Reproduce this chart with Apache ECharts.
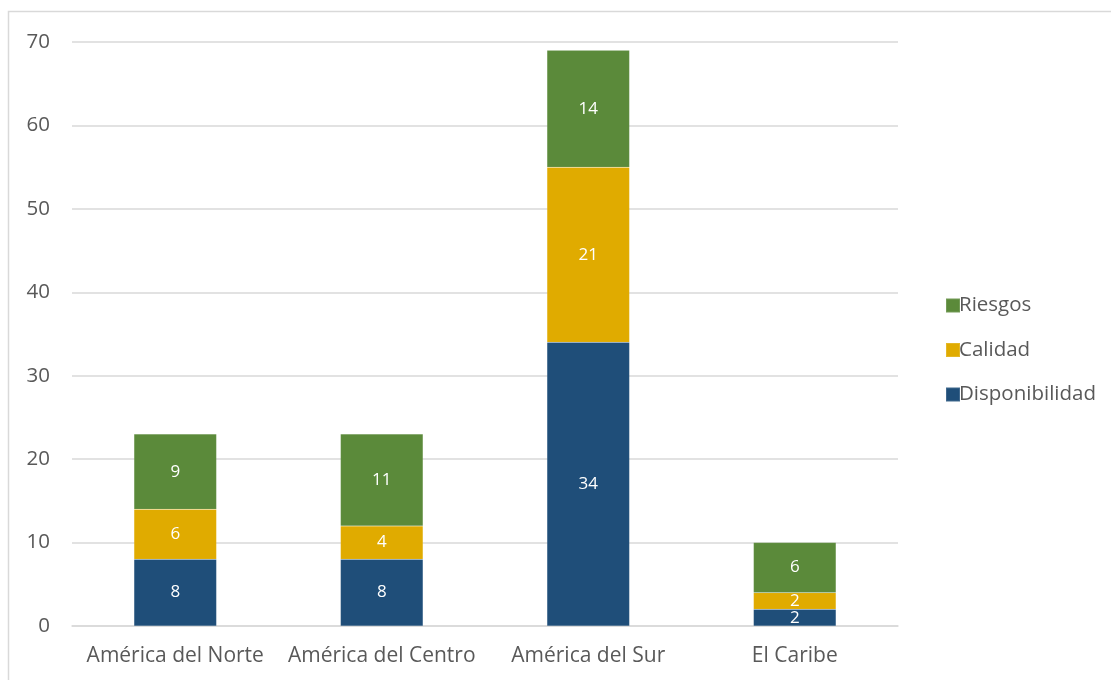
<!DOCTYPE html>
<html>
<head>
<meta charset="utf-8">
<script src="https://cdn.jsdelivr.net/npm/echarts@6/dist/echarts.min.js"></script>
<style>
  html, body { margin: 0; padding: 0; background: #fff; }
  #chart { width: 1111px; height: 680px; }
</style>
</head>
<body>
<div id="chart"></div>
<script>
// Regions and the count of items per topic
const regions = ['América del Norte', 'América del Centro', 'América del Sur', 'El Caribe'];
const disponibilidad = [8, 8, 34, 2];
const calidad = [6, 4, 21, 2];
const riesgos = [9, 11, 14, 6];
const yTicks = { min: 0, max: 70, interval: 10 };

const FONT = '"Open Sans", "Noto Sans", sans-serif';
const colors = { disp: '#1F4E79', cal: '#E0AB00', ries: '#5B8A3A' };

function stackSeries(name, data, color) {
  return {
    name: name,
    type: 'bar',
    stack: 'total',
    data: data,
    barCategoryGap: '60%',
    itemStyle: { color: color, borderColor: 'rgba(255,255,255,0.15)', borderWidth: 0.5 },
    label: {
      show: true,
      position: 'inside',
      color: '#ffffff',
      fontFamily: FONT,
      fontSize: 17
    },
    emphasis: { disabled: true }
  };
}

const chart = echarts.init(document.getElementById('chart'), null, { renderer: 'canvas' });
chart.setOption({
  animation: false,
  grid: { left: 72, right: 213, top: 42, bottom: 54, containLabel: false },
  graphic: [{
    type: 'rect',
    shape: { x: 8.5, y: 11.5, width: 1200, height: 800 },
    style: { fill: 'none', stroke: '#D9D9D9', lineWidth: 1.5 },
    silent: true
  }],
  legend: {
    orient: 'vertical',
    left: 940,
    top: 290,
    itemWidth: 14,
    itemHeight: 14,
    itemGap: 23.5,
    icon: 'rect',
    data: ['Riesgos', 'Calidad', 'Disponibilidad'],
    textStyle: { color: '#595959', fontFamily: FONT, fontSize: 20.5, padding: [0, 0, 0, -6] }
  },
  xAxis: {
    type: 'category',
    data: regions,
    axisLine: { show: true, lineStyle: { color: '#D9D9D9', width: 1.5 } },
    axisTick: { show: false },
    axisLabel: { color: '#595959', fontFamily: FONT, fontSize: 21, margin: 20, interval: 0 }
  },
  yAxis: {
    type: 'value',
    min: yTicks.min,
    max: yTicks.max,
    interval: yTicks.interval,
    axisLine: { show: false },
    axisTick: { show: false },
    splitLine: { lineStyle: { color: '#D9D9D9', width: 1.5 } },
    axisLabel: { color: '#595959', fontFamily: FONT, fontSize: 20.5, margin: 22 }
  },
  series: [
    stackSeries('Disponibilidad', disponibilidad, colors.disp),
    stackSeries('Calidad', calidad, colors.cal),
    stackSeries('Riesgos', riesgos, colors.ries)
  ]
});
</script>
</body>
</html>
